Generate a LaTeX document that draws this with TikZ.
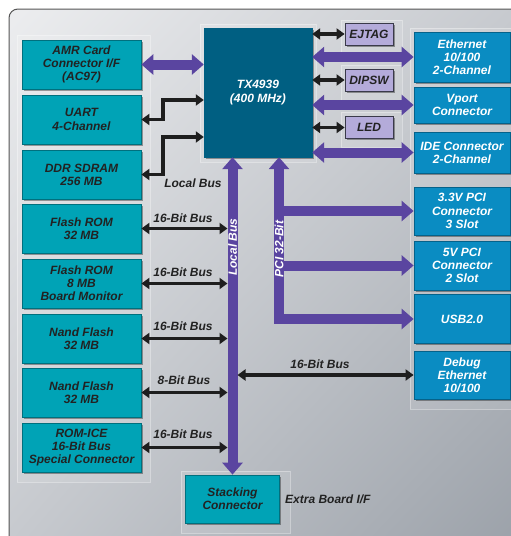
\documentclass[tikz,border=0pt]{standalone}
\usepackage{fontspec}
\setmainfont{Liberation Sans}
\usetikzlibrary{arrows.meta,shadows,shadings}
\definecolor{cTeal}{HTML}{00A3B6}
\definecolor{cTealB}{HTML}{00707E}
\definecolor{cBlue}{HTML}{0A8CC2}
\definecolor{cBlueB}{HTML}{05628A}
\definecolor{cTX}{HTML}{005F82}
\definecolor{cLav}{HTML}{B4ABDA}
\definecolor{cLavB}{HTML}{3A3A4A}
\definecolor{cPur}{HTML}{5A45A0}
\definecolor{cBlk}{HTML}{1E1E1E}
\definecolor{cTxt}{HTML}{222222}
\definecolor{bgA}{HTML}{ECEDEF}
\definecolor{bgM}{HTML}{C6C9CE}
\definecolor{bgB}{HTML}{9AA0A8}
\definecolor{cFrame}{HTML}{555555}
\tikzset{
  ptip/.tip={Triangle[width=20pt,length=12pt]},
  btip/.tip={Triangle[width=11pt,length=8pt]},
}
\begin{document}
\begin{tikzpicture}[x=1pt,y=-1pt,
  every node/.style={font=\fontsize{12}{13.2}\selectfont\bfseries\itshape, align=center, inner sep=0pt},
  shad/.style={drop shadow={shadow xshift=1.5pt,shadow yshift=-1.5pt,opacity=0.35,fill=black}},
  lbox/.style={shad, draw=cTealB, line width=0.8pt, fill=cTeal, text=cTxt, minimum width=119pt, minimum height=49pt},
  rbox/.style={shad, draw=cBlueB, line width=0.8pt, fill=cBlue, text=white, minimum width=96pt},
  sbox/.style={shad, draw=cLavB, line width=0.8pt, fill=cLav, text=cTxt, minimum width=48pt, minimum height=22pt},
  txbox/.style={shad, draw=cTX, fill=cTX, text=white, minimum width=108pt, minimum height=129pt},
  panel/.style={fill=white, fill opacity=0.1, draw=white, draw opacity=0.35, line width=0.5pt},
  pbus/.style={draw=cPur, line width=10pt, line join=miter},
  bbus/.style={draw=cBlk, line width=3.5pt, line join=miter},
  lbl/.style={text=cTxt},
  wlbl/.style={text=white, rotate=90},
]
\useasboundingbox (0,0) rectangle (511,536);
\clip (0,0) rectangle (511,536);
\fill[white] (0,0) rectangle (511,536);
% background frame
\shade[upper left=bgA, upper right=bgM, lower left=bgM, lower right=bgB, rounded corners=9pt]
  (9,9) rectangle (530,550);
\draw[cFrame, line width=1pt, rounded corners=9pt] (9,9) rectangle (530,550);
% subtle panels
\draw[panel] (17,35) rectangle (150,482);
\draw[panel] (200,24) rectangle (316,162);
\draw[panel] (341,20) rectangle (402,53);
\draw[panel] (341,65) rectangle (402,100);
\draw[panel] (341,112) rectangle (402,147);
\draw[panel] (410,28) rectangle (515,409);
\draw[panel] (181,471) rectangle (290,533);

% left column
\node[lbox] (amr) at (81.5,64.5) {AMR Card\\Connector I/F\\(AC97)};
\node[lbox] (uart) at (81.5,119.5) {UART\\4-Channel};
\node[lbox] (ddr) at (81.5,174.5) {DDR SDRAM\\256 MB};
\node[lbox] (f1) at (81.5,228.5) {Flash ROM\\32 MB};
\node[lbox] (f2) at (81.5,283.5) {Flash ROM\\8 MB\\Board Monitor};
\node[lbox] (n1) at (81.5,338.5) {Nand Flash\\32 MB};
\node[lbox] (n2) at (81.5,392.5) {Nand Flash\\32 MB};
\node[lbox] (rom) at (81.5,447.5) {ROM-ICE\\16-Bit Bus\\Special Connector};

% CPU
\node[txbox] (tx) at (258,92.5) {TX4939\\(400 MHz)};

% small boxes
\node[sbox] (ej) at (369,34) {EJTAG};
\node[sbox] (dip) at (369,80) {DIPSW};
\node[sbox] (led) at (369,127.5) {LED};

% right column
\node[rbox, minimum height=50pt] (eth) at (462,57) {Ethernet\\10/100\\2-Channel};
\node[rbox, minimum height=36pt] (vp) at (462,105) {Vport\\Connector};
\node[rbox, minimum height=41pt] (ide) at (462,152.5) {IDE Connector\\2-Channel};
\node[rbox, minimum height=48pt] (p3) at (462,211) {3.3V PCI\\Connector\\3 Slot};
\node[rbox, minimum height=49pt] (p5) at (462,265.5) {5V PCI\\Connector\\2 Slot};
\node[rbox, minimum height=49pt] (usb) at (462,319) {USB2.0};
\node[rbox, minimum height=48pt] (dbg) at (462,375) {Debug\\Ethernet\\10/100};

% stacking
\node[lbox, minimum width=94pt, minimum height=48pt] (stack) at (232.5,499) {Stacking\\Connector};
\node[lbl, anchor=west] (extra) at (285,499) {Extra Board I/F};

% helper coordinates
\coordinate (lbL) at (227.5,0);
\coordinate (lbR) at (237.5,0);
\coordinate (pcix) at (279,0);
\coordinate (ua1) at (163,100);
\coordinate (dd1) at (163,137);

% local bus
\draw[pbus, ptip-ptip] (tx.south -| stack.north) -- (stack.north);
\node[wlbl] (lbtext) at (232.5,247) {Local Bus};
\node[lbl] (lbtext2) at (193,183) {Local Bus};

% PCI bus
\draw[pbus, ptip-ptip] (tx.south -| pcix) |- (usb.west);
\draw[pbus, -ptip] (pcix |- p3.west) -- (p3.west);
\draw[pbus, -ptip] (pcix |- p5.west) -- (p5.west);
\node[wlbl] (pcitext) at (279,249) {PCI 32-Bit};

% purple links
\draw[pbus, ptip-ptip] (amr.east) -- (amr.east -| tx.west);
\draw[pbus, ptip-ptip] (tx.east |- eth.west) -- (eth.west);
\draw[pbus, ptip-ptip] (tx.east |- vp.west) -- (vp.west);
\draw[pbus, ptip-ptip] (tx.east |- ide.west) -- (ide.west);

% black links
\draw[bbus, btip-btip] (tx.east |- ej.west) -- (ej.west);
\draw[bbus, btip-btip] (tx.east |- dip.west) -- (dip.west);
\draw[bbus, btip-btip] (tx.east |- led.west) -- (led.west);
\draw[bbus, btip-btip] (uart.east) -| (ua1) -- (ua1 -| tx.west);
\draw[bbus, btip-btip] (ddr.east) -| (dd1) -- (dd1 -| tx.west);

\draw[bbus, btip-btip] (f1.east) -- (f1.east -| lbL);
\draw[bbus, btip-btip] (f2.east) -- (f2.east -| lbL);
\draw[bbus, btip-btip] (n1.east) -- (n1.east -| lbL);
\draw[bbus, btip-btip] (n2.east) -- (n2.east -| lbL);
\draw[bbus, btip-btip] (rom.east) -- (rom.east -| lbL);
\draw[bbus, btip-btip] (lbR |- dbg.west) -- (dbg.west);

\node[lbl] (b1) at (183,218) {16-Bit Bus};
\node[lbl] (b2) at (183,272) {16-Bit Bus};
\node[lbl] (b3) at (183,326) {16-Bit Bus};
\node[lbl] (b4) at (184,380) {8-Bit Bus};
\node[lbl] (b5) at (183,434) {16-Bit Bus};
\node[lbl] (b6) at (320,364) {16-Bit Bus};
\end{tikzpicture}
\end{document}
